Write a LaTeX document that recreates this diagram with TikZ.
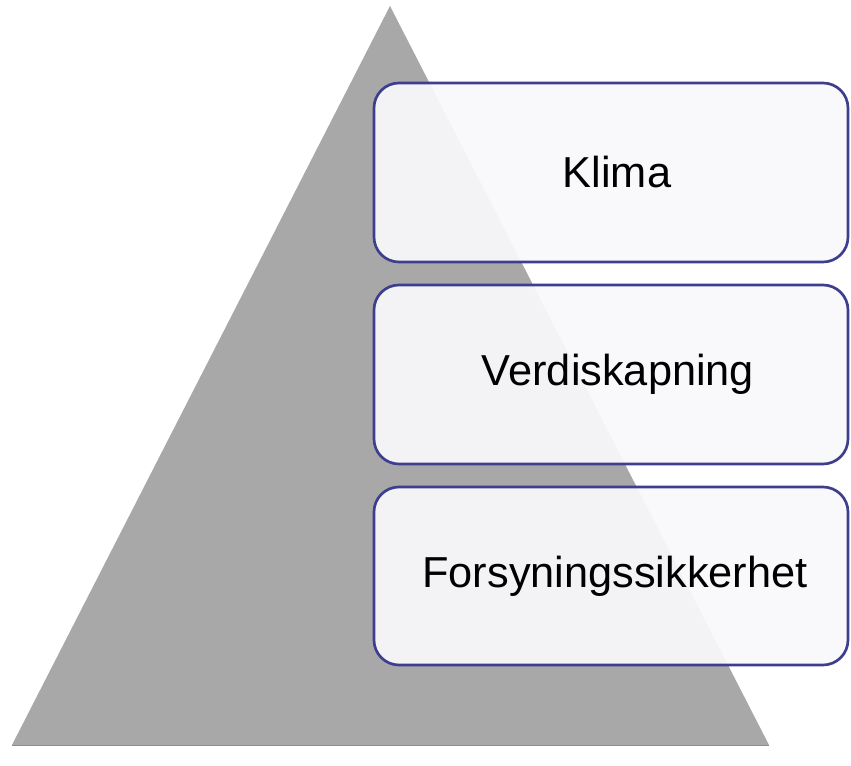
\documentclass[tikz,border=0pt]{standalone}
\usepackage{fontspec}
\setmainfont{Liberation Sans}
\definecolor{trigray}{HTML}{A8A8A8}
\definecolor{boxline}{HTML}{3E3E8E}
\definecolor{boxfill}{HTML}{F9F9FC}
\begin{document}
\begin{tikzpicture}[x=0.75pt,y=-0.75pt,
  tri/.style={fill=trigray,draw=none},
  panel/.style={draw=boxline,line width=2pt,fill=boxfill,fill opacity=0.93,rounded corners=18.75pt},
  label/.style={font=\fontsize{32.5}{38}\selectfont,text=black,inner sep=0pt}]
\useasboundingbox (0,0) rectangle (851,766);
\fill[white] (0,0) rectangle (851,766);
\path[tri] (12,745) -- (390,6) -- (769,745) -- cycle;
\draw[color=black!45,line width=0.9pt] (12,745.5) -- (769,745.5);
\draw[panel] (374,83) rectangle (848,262);
\draw[panel] (374,285) rectangle (848,464);
\draw[panel] (374,487) rectangle (848,665);
\node[label] (klima) at (617,172) {Klima};
\node[label] (verdi) at (618,374) {Verdiskapning};
\node[label] (forsy) at (615,576) {Forsyningssikkerhet};
\end{tikzpicture}
\end{document}
